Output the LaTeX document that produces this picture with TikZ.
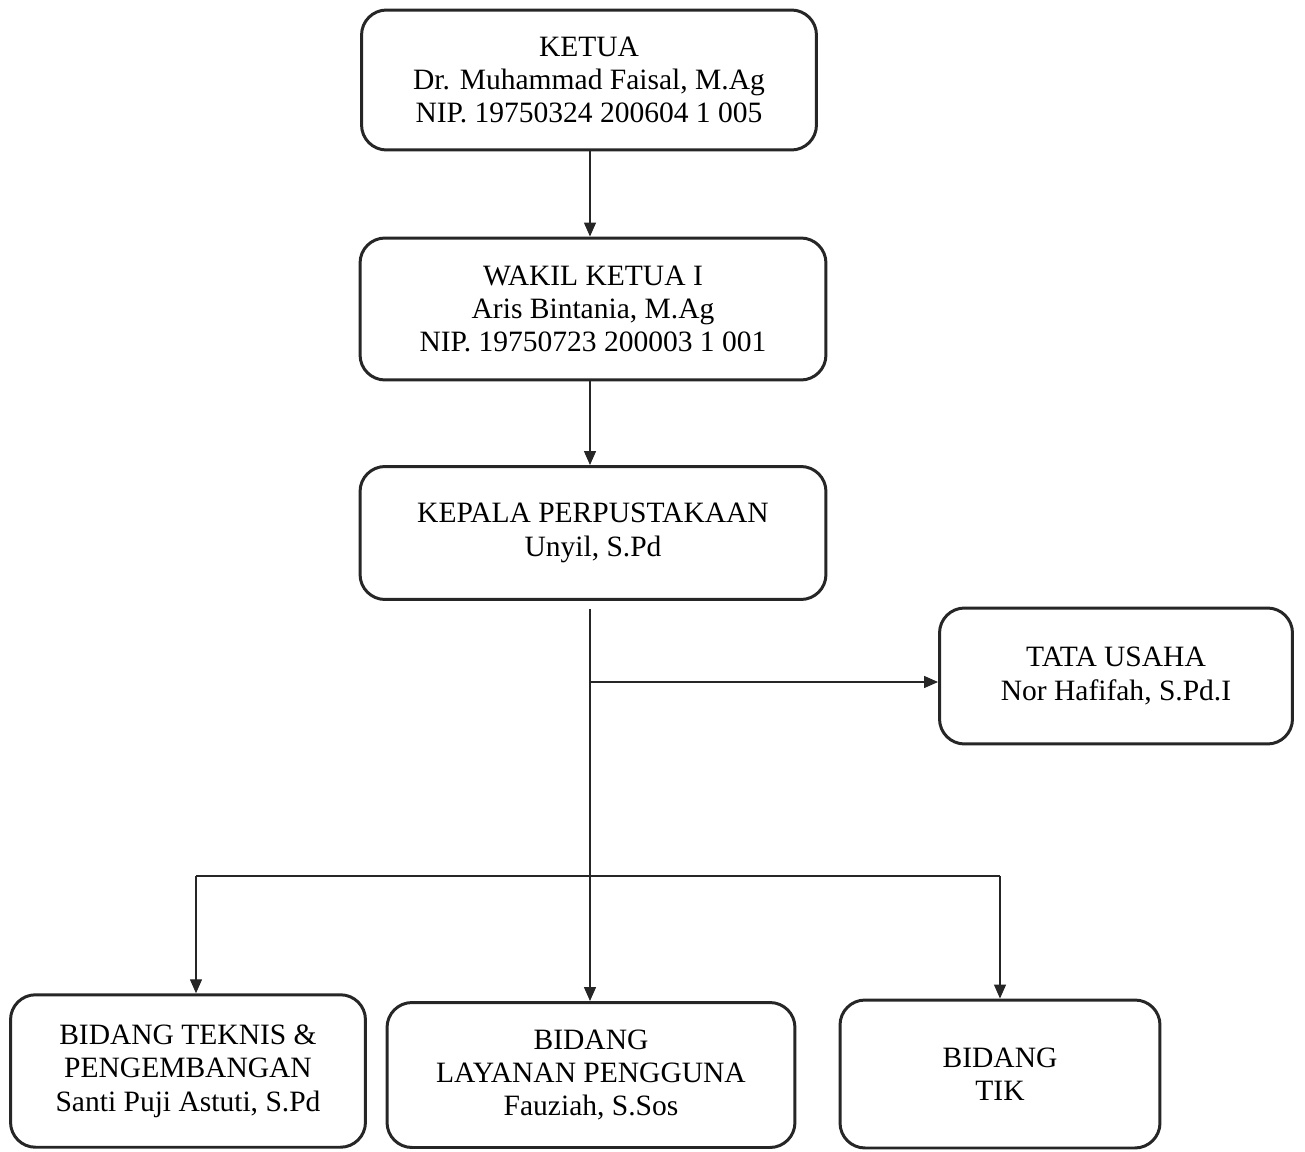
\documentclass[tikz,border=0pt]{standalone}
\usepackage{fontspec}
\setmainfont{Liberation Serif}
\usetikzlibrary{arrows.meta}
\begin{document}
\begin{tikzpicture}[
    x=0.02cm, y=-0.02cm,
    unit/.style={rectangle, draw=black!85, line width=1.7pt, rounded corners=0.5cm, align=center, font=\fontsize{16.8}{19}\selectfont, inner sep=0pt},
    link/.style={-{Triangle[length=0.28cm, width=0.24cm]}, line width=0.8pt, draw=black!85},
    plain/.style={line width=0.8pt, draw=black!85},
]
\useasboundingbox (0,0) rectangle (1305,1152);

\node[unit, minimum width=9.1cm, minimum height=2.8cm] (ketua) at (589,80) {KETUA\\Dr. Muhammad Faisal, M.Ag\\NIP. 19750324 200604 1 005};
\node[unit, minimum width=9.32cm, minimum height=2.84cm] (wakil) at (593,309) {WAKIL KETUA I\\Aris Bintania, M.Ag\\NIP. 19750723 200003 1 001};
\node[unit, minimum width=9.32cm, minimum height=2.66cm] (kepala) at (593,533) {KEPALA PERPUSTAKAAN\\Unyil, S.Pd};

\node[unit, minimum width=7.06cm, minimum height=2.72cm] (tata) at (1116,676) {TATA USAHA\\Nor Hafifah, S.Pd.I};

\node[unit, minimum width=7.1cm, minimum height=3.05cm] (teknis) at (188,1071) {BIDANG TEKNIS \&\\PENGEMBANGAN\\Santi Puji Astuti, S.Pd};
\node[unit, minimum width=8.16cm, minimum height=2.9cm] (layanan) at (591,1075) {BIDANG\\LAYANAN PENGGUNA\\Fauziah, S.Sos};
\node[unit, minimum width=6.4cm, minimum height=2.96cm] (tik) at (1000,1074) {BIDANG\\TIK};

\coordinate (hub) at (590,682);
\coordinate (left) at (196,876);
\coordinate (right) at (1000,876);

\draw[link] (ketua.south -| hub) -- (wakil.north -| hub);
\draw[link] (wakil.south -| hub) -- (kepala.north -| hub);
\draw[link, shorten <=0.16cm] (kepala.south -| hub) -- (layanan.north -| hub);
\draw[link] (hub) -- (hub -| tata.west);

\draw[plain] (left) -- (right);
\draw[link] (left) -- (left |- teknis.north);
\draw[link] (right) -- (right |- tik.north);

\end{tikzpicture}
\end{document}
